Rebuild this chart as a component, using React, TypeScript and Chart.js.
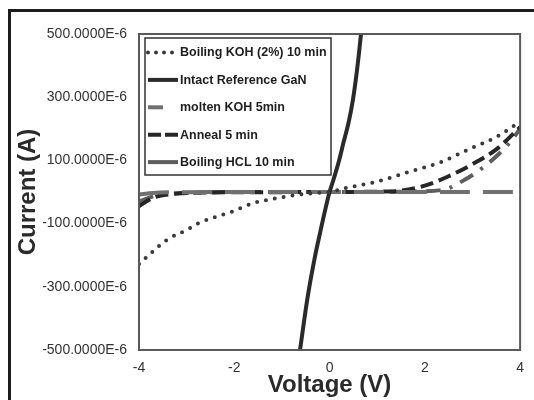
import React, { useEffect, useRef } from "react";
import { Chart, registerables } from "chart.js";
Chart.register(...registerables);

const FONT = "'Liberation Sans', Arial, sans-serif";

const seriesNames = [
  "Boiling KOH (2%) 10 min",
  "Intact Reference GaN",
  "molten KOH 5min",
  "Anneal 5 min",
  "Boiling HCL 10 min",
];

// Voltage (V) / Current (µA, i.e. E-6 A)
const kohV = [-4, -3.42, -3, -2.74, -2.06, -1.57, -1, -0.74, -0.3, 0, 0.35, 0.97, 1.65, 2.35, 2.89, 3.5, 4];
const kohI = [-228, -152, -120, -98, -63, -34, -17, -10, -3, 0, 13, 32, 63, 95, 133, 174, 222];

const intactV = [-0.72, -0.62, -0.47, -0.3, -0.2, -0.1, 0, 0.08, 0.2, 0.29, 0.4, 0.49, 0.58, 0.66, 0.72];
const intactI = [-600, -500, -342, -200, -130, -62, 0, 38, 100, 155, 220, 291, 390, 500, 600];

const moltenV = [-4, -3.7, -3.3, -2, 0, 2, 3, 4];
const moltenI = [-8, -3, -1, 0, 0, 0, 0, 0];

const annealV = [-4, -3.7, -3.4, -3, -2, 0, 1, 1.5, 2, 2.5, 3, 3.5, 4];
const annealI = [-45, -18, -8, -3, -1, 0, 1, 4, 20, 50, 88, 135, 205];

const hclV = [-4, -3.6, -3, -2, 0, 2, 2.5, 2.76, 3.09, 3.48, 3.8, 4];
const hclI = [-30, -10, -3, 0, 0, 2, 12, 32, 63, 110, 160, 200];

const xTickValues = [-4, -2, 0, 2, 4];
const yTickValues = [-500, -300, -100, 100, 300, 500];

const toPoints = (xs: number[], ys: number[]) => xs.map((x, i) => ({ x, y: ys[i] }));

const legendStyles = [
  { color: "#3a3a3a", width: 4, dash: [0, 8], cap: "round" as CanvasLineCap, len: 28 },
  { color: "#2a2a2a", width: 4, dash: [] as number[], cap: "butt" as CanvasLineCap, len: 30 },
  { color: "#707070", width: 4, dash: [15, 30], cap: "butt" as CanvasLineCap, len: 30 },
  { color: "#262626", width: 4, dash: [13, 4], cap: "butt" as CanvasLineCap, len: 30 },
  { color: "#5e5e5e", width: 4, dash: [] as number[], cap: "butt" as CanvasLineCap, len: 30 },
];

const framePlugin = {
  id: "frameAndLegend",
  afterDatasetsDraw(chart: any) {
    const { ctx, chartArea } = chart;
    ctx.save();
    ctx.strokeStyle = "#5a5a5a";
    ctx.lineWidth = 2;
    ctx.setLineDash([]);
    ctx.strokeRect(chartArea.left, chartArea.top, chartArea.right - chartArea.left, chartArea.bottom - chartArea.top);

    // legend box
    const bx = chartArea.left + 6;
    const by = chartArea.top + 4;
    const bw = 186;
    const bh = 137;
    ctx.fillStyle = "#ffffff";
    ctx.fillRect(bx, by, bw, bh);
    ctx.strokeStyle = "#333333";
    ctx.lineWidth = 1.5;
    ctx.strokeRect(bx, by, bw, bh);

    ctx.font = `bold 12.5px ${FONT}`;
    ctx.textBaseline = "middle";
    ctx.textAlign = "left";
    seriesNames.forEach((name, i) => {
      const st = legendStyles[i];
      const y = by + 14.5 + i * 27.4;
      const x0 = bx + 3;
      ctx.beginPath();
      ctx.strokeStyle = st.color;
      ctx.lineWidth = st.width;
      ctx.lineCap = st.cap;
      ctx.setLineDash(st.dash);
      ctx.moveTo(x0, y);
      ctx.lineTo(x0 + st.len, y);
      ctx.stroke();
      ctx.setLineDash([]);
      ctx.fillStyle = "#1e1e1e";
      ctx.fillText(name, bx + 35, y + 0.5);
    });
    ctx.restore();
  },
};

export default function App() {
  const canvasRef = useRef<HTMLCanvasElement | null>(null);

  useEffect(() => {
    if (!canvasRef.current) return;
    const chart = new Chart(canvasRef.current, {
      type: "line",
      data: {
        datasets: [
          {
            label: seriesNames[0],
            data: toPoints(kohV, kohI),
            borderColor: "#3a3a3a",
            borderWidth: 4,
            borderDash: [0, 9],
            borderCapStyle: "round",
          },
          {
            label: seriesNames[1],
            data: toPoints(intactV, intactI),
            borderColor: "#2a2a2a",
            borderWidth: 4,
          },
          {
            label: seriesNames[2],
            data: toPoints(moltenV, moltenI),
            borderColor: "#707070",
            borderWidth: 4,
            borderDash: [30, 13],
          },
          {
            label: seriesNames[3],
            data: toPoints(annealV, annealI),
            borderColor: "#262626",
            borderWidth: 4,
            borderDash: [13, 6],
          },
          {
            label: seriesNames[4],
            data: toPoints(hclV, hclI),
            borderColor: "#5e5e5e",
            borderWidth: 4,
            borderDash: [15, 9, 3, 9],
          },
        ] as any,
      },
      options: {
        responsive: false,
        animation: false,
        parsing: true,
        layout: { padding: { top: 34, right: 7, bottom: 0, left: 0 } },
        elements: {
          point: { radius: 0 },
          line: { cubicInterpolationMode: "monotone", fill: false },
        },
        datasets: { line: { clip: 0 } } as any,
        plugins: {
          legend: { display: false },
          tooltip: { enabled: false },
        },
        scales: {
          x: {
            type: "linear",
            min: -4,
            max: 4,
            afterBuildTicks: (s: any) => {
              s.ticks = xTickValues.map((v) => ({ value: v }));
            },
            afterFit: (s: any) => {
              s.height = 50;
            },
            grid: { display: false, drawTicks: false },
            border: { display: false },
            ticks: {
              padding: 10,
              color: "#333333",
              font: { size: 14, family: FONT },
              callback: (v: any) => String(v),
            },
            title: {
              display: true,
              text: "Voltage (V)",
              color: "#2a2a2a",
              font: { size: 24, weight: "bold", family: FONT, lineHeight: 1.2 },
              padding: { top: 0, bottom: 0 },
            },
          },
          y: {
            type: "linear",
            min: -500,
            max: 500,
            afterBuildTicks: (s: any) => {
              s.ticks = yTickValues.map((v) => ({ value: v }));
            },
            afterFit: (s: any) => {
              s.width = 139;
            },
            grid: { display: false, drawTicks: false },
            border: { display: false },
            ticks: {
              padding: 12,
              color: "#333333",
              font: { size: 14, family: FONT },
              callback: (v: any) => `${Number(v).toFixed(4)}E-6`,
            },
            title: {
              display: true,
              text: "Current (A)",
              color: "#2a2a2a",
              font: { size: 24, weight: "bold", family: FONT, lineHeight: 1.2 },
              padding: { top: 14, bottom: 0 },
            },
          },
        },
      } as any,
      plugins: [framePlugin],
    });
    return () => chart.destroy();
  }, []);

  return (
    <div style={{ position: "absolute", left: 0, top: 0, width: 534, height: 400, overflow: "hidden", background: "#ffffff" }}>
      <div
        style={{
          position: "absolute",
          left: 8,
          top: 9,
          width: 526,
          height: 391,
          boxSizing: "border-box",
          borderTop: "3px solid #1c1c1c",
          borderLeft: "3px solid #1c1c1c",
        }}
      />
      <canvas ref={canvasRef} width={534} height={400} style={{ position: "absolute", left: 0, top: 0 }} />
    </div>
  );
}
